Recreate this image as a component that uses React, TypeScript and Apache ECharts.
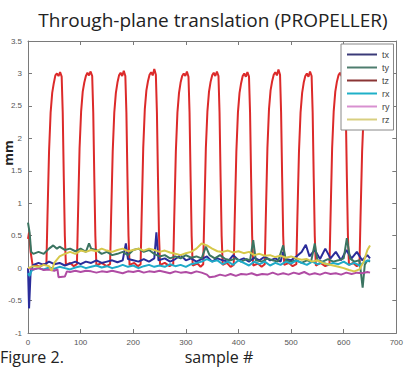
import React, { useEffect, useRef } from "react";
import * as echarts from "echarts";

const seriesNames = ["tx", "ty", "tz", "rx", "ry", "rz"];
const seriesColors = ["#2a2c9a", "#3b7461", "#dc2a2a", "#1eaac8", "#b04ca4", "#d6c84a"];
const legendColors = ["#3a3a78", "#4e7d6e", "#8a3535", "#1fb0c8", "#d890d0", "#d8cf80"];
const xTicks = { min: 0, max: 700, interval: 100 };
const yTicks = { min: -1, max: 3.5, interval: 0.5 };

const txPoints: [number, number][] = [
  [0, 0], [2, -0.62], [5, -0.05], [10, 0.05], [20, 0.08], [30, 0.05], [40, 0.1], [50, 0.06], [60, 0.08],
  [70, 0.04], [80, 0.07], [90, 0.1], [100, 0.06], [110, 0.1], [120, 0.08], [130, 0.12], [140, 0.08],
  [150, 0.1], [160, 0.12], [170, 0.09], [180, 0.12], [186, 0.38], [190, 0.14], [200, 0.12], [210, 0.1],
  [220, 0.14], [230, 0.1], [240, 0.15], [244, 0.55], [248, 0.12], [260, 0.15], [270, 0.1], [280, 0.14],
  [290, 0.2], [300, 0.12], [310, 0.15], [320, 0.1], [330, 0.14], [340, 0.18], [350, 0.1], [360, 0.15],
  [370, 0.12], [380, 0.1], [390, 0.2], [400, 0.12], [410, 0.15], [420, 0.1], [430, 0.16], [440, 0.12],
  [450, 0.18], [460, 0.12], [470, 0.15], [480, 0.1], [485, 0.25], [490, 0.14], [500, 0.12], [510, 0.18],
  [520, 0.25], [528, 0.36], [535, 0.18], [545, 0.28], [555, 0.14], [565, 0.3], [575, 0.15], [585, 0.25],
  [595, 0.12], [605, 0.28], [615, 0.15], [625, 0.25], [635, 0.12], [645, 0.2], [650, 0.15],
];

const tyPoints: [number, number][] = [
  [0, 0.7], [3, 0.55], [6, 0.25], [10, 0.22], [20, 0.25], [30, 0.22], [40, 0.3], [48, 0.35], [55, 0.3],
  [60, 0.33], [70, 0.28], [80, 0.3], [90, 0.26], [100, 0.3], [110, 0.25], [116, 0.38], [120, 0.3],
  [130, 0.28], [140, 0.22], [150, 0.25], [160, 0.2], [170, 0.22], [180, 0.25], [190, 0.2], [200, 0.28],
  [210, 0.3], [220, 0.25], [230, 0.28], [240, 0.22], [250, 0.18], [260, 0.2], [270, 0.15], [280, 0.18],
  [290, 0.15], [300, 0.2], [310, 0.16], [320, 0.18], [330, 0.15], [338, 0.33], [345, 0.2], [355, 0.15],
  [365, 0.2], [375, 0.14], [385, 0.12], [395, 0.15], [405, 0.1], [415, 0.14], [422, 0.12], [428, 0.43],
  [433, 0.12], [445, 0.1], [455, 0.15], [465, 0.12], [475, 0.1], [485, 0.35], [490, 0.12], [500, 0.1],
  [510, 0.12], [520, 0.08], [530, 0.12], [538, 0.1], [545, 0.38], [550, 0.12], [560, 0.1], [570, 0.14],
  [580, 0.1], [590, 0.12], [600, 0.15], [606, 0.46], [612, 0.15], [620, 0.1], [630, 0.12], [636, -0.3],
  [640, 0.05], [645, 0.12], [650, 0.1],
];

const tzPoints: [number, number][] = [
  [0, 0.45], [2, 0.55], [5, 0.25], [9, 0.03], [15, 0.05], [22, 0.02], [30, 0.06],
  [35, 0.06], [37, 0.8], [40, 1.8], [43, 2.4], [46, 2.7], [49, 2.85], [52, 2.97], [55, 3.0], [58, 2.96], [61, 3.02], [64, 2.95], [66, 2.4], [68, 1.4], [70, 0.5], [72, 0.05],
  [80, 0.08], [87, 0.03],
  [93, 0.06], [95, 0.8], [98, 1.85], [101, 2.42], [104, 2.72], [107, 2.86], [110, 2.96], [113, 3.01], [116, 2.97], [119, 3.03], [122, 2.96], [124, 2.4], [126, 1.4], [128, 0.5], [130, 0.04],
  [140, 0.08], [149, 0.03],
  [156, 0.06], [158, 0.8], [161, 1.8], [164, 2.4], [167, 2.7], [170, 2.86], [173, 2.97], [176, 3.01], [179, 2.96], [182, 3.04], [185, 2.96], [187, 2.4], [189, 1.4], [191, 0.5], [193, 0.05],
  [202, 0.08], [209, 0.03],
  [214, 0.06], [216, 0.8], [219, 1.85], [222, 2.45], [225, 2.74], [228, 2.88], [231, 2.98], [234, 3.02], [237, 2.97], [240, 3.07], [243, 2.98], [245, 2.4], [247, 1.4], [249, 0.5], [251, 0.05],
  [260, 0.08], [269, 0.03],
  [276, 0.06], [278, 0.8], [281, 1.8], [284, 2.4], [287, 2.7], [290, 2.86], [293, 2.96], [296, 3.0], [299, 2.96], [302, 3.03], [305, 2.95], [307, 2.4], [309, 1.4], [311, 0.5], [313, 0.04],
  [322, 0.07], [328, 0.02],
  [333, 0.06], [335, 0.8], [338, 1.85], [341, 2.42], [344, 2.72], [347, 2.87], [350, 2.97], [353, 3.01], [356, 2.96], [359, 3.03], [362, 2.96], [364, 2.4], [366, 1.4], [368, 0.5], [370, 0.05],
  [378, 0.08], [385, 0.02],
  [391, 0.05], [393, 0.8], [396, 1.8], [399, 2.4], [402, 2.7], [405, 2.85], [408, 2.96], [411, 3.0], [414, 2.95], [417, 3.02], [420, 2.95], [422, 2.4], [424, 1.4], [426, 0.5], [428, 0.04],
  [437, 0.07], [444, 0.02],
  [450, 0.06], [452, 0.8], [455, 1.85], [458, 2.45], [461, 2.74], [464, 2.88], [467, 2.98], [470, 3.02], [473, 2.97], [476, 3.06], [479, 2.98], [481, 2.4], [483, 1.4], [485, 0.5], [487, 0.05],
  [496, 0.08], [503, 0.03],
  [510, 0.06], [512, 0.8], [515, 1.8], [518, 2.4], [521, 2.7], [524, 2.86], [527, 2.96], [530, 3.0], [533, 2.95], [536, 3.03], [539, 2.96], [541, 2.4], [543, 1.4], [545, 0.5], [547, 0.04],
  [556, 0.08], [565, 0.03],
  [573, 0.06], [575, 0.8], [578, 1.85], [581, 2.42], [584, 2.72], [587, 2.87], [590, 2.97], [593, 3.01], [596, 2.96], [599, 3.02], [602, 2.95], [604, 2.4], [606, 1.4], [608, 0.5], [610, 0.05],
  [618, 0.08], [625, 0.03],
  [630, 0.06], [632, 0.8], [635, 1.8], [638, 2.4], [641, 2.7], [644, 2.85], [647, 2.95], [650, 3.0],
];

const rxPoints: [number, number][] = [
  [0, -0.08], [3, -0.12], [6, -0.05], [10, -0.02], [20, 0.0], [30, -0.02], [40, 0.01], [50, -0.01],
  [60, 0.02], [70, 0.0], [80, -0.02], [90, 0.01], [100, 0.03], [110, 0.0], [120, 0.02], [130, 0.04],
  [140, 0.01], [150, 0.03], [160, 0.0], [170, 0.02], [180, 0.05], [190, 0.02], [200, 0.04], [210, 0.0],
  [220, 0.03], [230, 0.05], [240, 0.02], [250, 0.04], [260, 0.02], [270, 0.06], [280, 0.03], [290, 0.05],
  [300, 0.02], [310, 0.06], [320, 0.08], [330, 0.1], [340, 0.14], [350, 0.1], [360, 0.12], [370, 0.06],
  [380, 0.1], [390, 0.05], [400, 0.12], [410, 0.08], [420, 0.04], [430, 0.1], [440, 0.06], [450, 0.1],
  [460, 0.04], [470, 0.08], [480, 0.05], [490, 0.1], [500, 0.07], [510, 0.12], [520, 0.08], [530, 0.05],
  [540, 0.1], [550, 0.06], [560, 0.09], [570, 0.05], [580, 0.08], [590, 0.06], [600, 0.1], [610, 0.05],
  [620, 0.08], [630, 0.04], [640, 0.1], [650, 0.12],
];

const ryPoints: [number, number][] = [
  [0, 0.0], [10, -0.02], [20, 0.0], [30, -0.03], [40, -0.02], [50, -0.04], [56, -0.02], [58, -0.14],
  [70, -0.13], [74, -0.05], [80, -0.06], [90, -0.04], [100, -0.06], [110, -0.04], [120, -0.05], [130, -0.07],
  [140, -0.05], [150, -0.06], [160, -0.04], [170, -0.06], [180, -0.08], [190, -0.05], [200, -0.06],
  [210, -0.04], [220, -0.07], [230, -0.05], [240, -0.06], [250, -0.04], [260, -0.06], [270, -0.08],
  [280, -0.05], [290, -0.07], [300, -0.06], [310, -0.08], [320, -0.05], [330, -0.07], [340, -0.1],
  [345, -0.14], [355, -0.13], [365, -0.1], [375, -0.12], [385, -0.09], [395, -0.12], [405, -0.09],
  [415, -0.1], [425, -0.08], [435, -0.11], [445, -0.09], [455, -0.1], [465, -0.07], [475, -0.1],
  [485, -0.08], [495, -0.1], [505, -0.07], [515, -0.09], [525, -0.06], [535, -0.1], [545, -0.08],
  [555, -0.1], [565, -0.07], [575, -0.09], [585, -0.08], [595, -0.1], [605, -0.07], [615, -0.09],
  [625, -0.07], [635, -0.08], [645, -0.06], [650, -0.07],
];

const rzPoints: [number, number][] = [
  [0, 0.0], [10, 0.03], [20, 0.02], [30, 0.05], [40, 0.03], [45, -0.04], [50, 0.08], [60, 0.18], [70, 0.22],
  [80, 0.25], [90, 0.22], [100, 0.27], [110, 0.25], [120, 0.28], [130, 0.26], [140, 0.3], [150, 0.27],
  [160, 0.25], [170, 0.28], [180, 0.3], [190, 0.26], [200, 0.28], [210, 0.3], [220, 0.27], [230, 0.3],
  [240, 0.28], [250, 0.25], [260, 0.27], [270, 0.24], [280, 0.22], [290, 0.2], [300, 0.23], [310, 0.25],
  [320, 0.3], [330, 0.38], [340, 0.35], [350, 0.3], [360, 0.26], [370, 0.25], [380, 0.27], [390, 0.24],
  [400, 0.26], [410, 0.23], [420, 0.25], [430, 0.2], [440, 0.22], [450, 0.19], [460, 0.2], [470, 0.17],
  [480, 0.19], [490, 0.16], [500, 0.18], [510, 0.15], [520, 0.13], [530, 0.14], [540, 0.1], [550, 0.12],
  [560, 0.08], [570, 0.06], [580, 0.04], [590, 0.02], [600, 0.0], [610, -0.03], [620, -0.05], [630, -0.02],
  [638, 0.1], [645, 0.28], [650, 0.35],
];

const allPoints = [txPoints, tyPoints, tzPoints, rxPoints, ryPoints, rzPoints];

export default function App() {
  const ref = useRef<HTMLDivElement>(null);
  useEffect(() => {
    if (!ref.current) return;
    const chart = echarts.init(ref.current, undefined, { renderer: "svg" });
    const axisColor = "#7a7a7a";
    const labelStyle = { fontSize: 8, color: "#555", fontFamily: "Liberation Sans" };
    chart.setOption({
      animation: false,
      backgroundColor: "#fff",
      grid: { left: 28, top: 41, right: 7, bottom: 37 },
      xAxis: [
        {
          type: "value", ...xTicks, position: "bottom",
          axisLine: { show: true, onZero: false, lineStyle: { color: axisColor, width: 1 } },
          axisTick: { show: true, inside: true, length: 4, lineStyle: { color: axisColor } },
          axisLabel: { ...labelStyle, margin: 5 },
          splitLine: { show: false },
        },
        {
          type: "value", ...xTicks, position: "top",
          axisLine: { show: true, onZero: false, lineStyle: { color: axisColor, width: 1 } },
          axisTick: { show: true, inside: true, length: 4, lineStyle: { color: axisColor } },
          axisLabel: { show: false },
          splitLine: { show: false },
        },
      ],
      yAxis: [
        {
          type: "value", ...yTicks, position: "left",
          axisLine: { show: true, onZero: false, lineStyle: { color: axisColor, width: 1 } },
          axisTick: { show: true, inside: true, length: 4, lineStyle: { color: axisColor } },
          axisLabel: { ...labelStyle, margin: 6 },
          splitLine: { show: false },
        },
        {
          type: "value", ...yTicks, position: "right",
          axisLine: { show: true, onZero: false, lineStyle: { color: axisColor, width: 1 } },
          axisTick: { show: true, inside: true, length: 4, lineStyle: { color: axisColor } },
          axisLabel: { show: false },
          splitLine: { show: false },
        },
      ],
      legend: {
        orient: "vertical",
        left: 341,
        top: 44,
        backgroundColor: "#fff",
        borderColor: "#888",
        borderWidth: 1,
        borderRadius: 0,
        padding: [5, 4, 5, 6],
        icon: "rect",
        itemWidth: 30,
        itemHeight: 2,
        itemGap: 2,
        textStyle: { fontSize: 9, lineHeight: 11, color: "#444", fontFamily: "Liberation Sans" },
        data: seriesNames.map((n, i) => ({
          name: n,
          itemStyle: { color: legendColors[i] },
        })),
      },
      graphic: [
        {
          type: "text", x: 213, y: 10,
          style: { text: "Through-plane translation (PROPELLER)", fill: "#222", fontSize: 19, fontFamily: "Open Sans", textAlign: "center" },
        },
        {
          type: "text", x: 8, y: 153, rotation: Math.PI / 2,
          style: { text: "mm", fill: "#222", fontSize: 13, fontWeight: "bold", fontFamily: "Open Sans", textAlign: "center", textVerticalAlign: "middle" },
        },
        {
          type: "text", x: 219, y: 349,
          style: { text: "sample #", fill: "#222", fontSize: 16, fontFamily: "Open Sans", textAlign: "center" },
        },
        {
          type: "text", x: 0, y: 349,
          style: { text: "Figure 2.", fill: "#222", fontSize: 16, fontFamily: "Open Sans" },
        },
      ],
      series: seriesNames.map((n, i) => ({
        name: n,
        type: "line",
        data: allPoints[i],
        symbol: "none",
        showSymbol: false,
        z: n === "tz" ? 1 : 2,
        lineStyle: { color: seriesColors[i], width: 2 },
        itemStyle: { color: seriesColors[i] },
      })),
    });
    return () => chart.dispose();
  }, []);
  return <div ref={ref} style={{ position: "fixed", left: 0, top: 0, width: 406, height: 370 }} />;
}
